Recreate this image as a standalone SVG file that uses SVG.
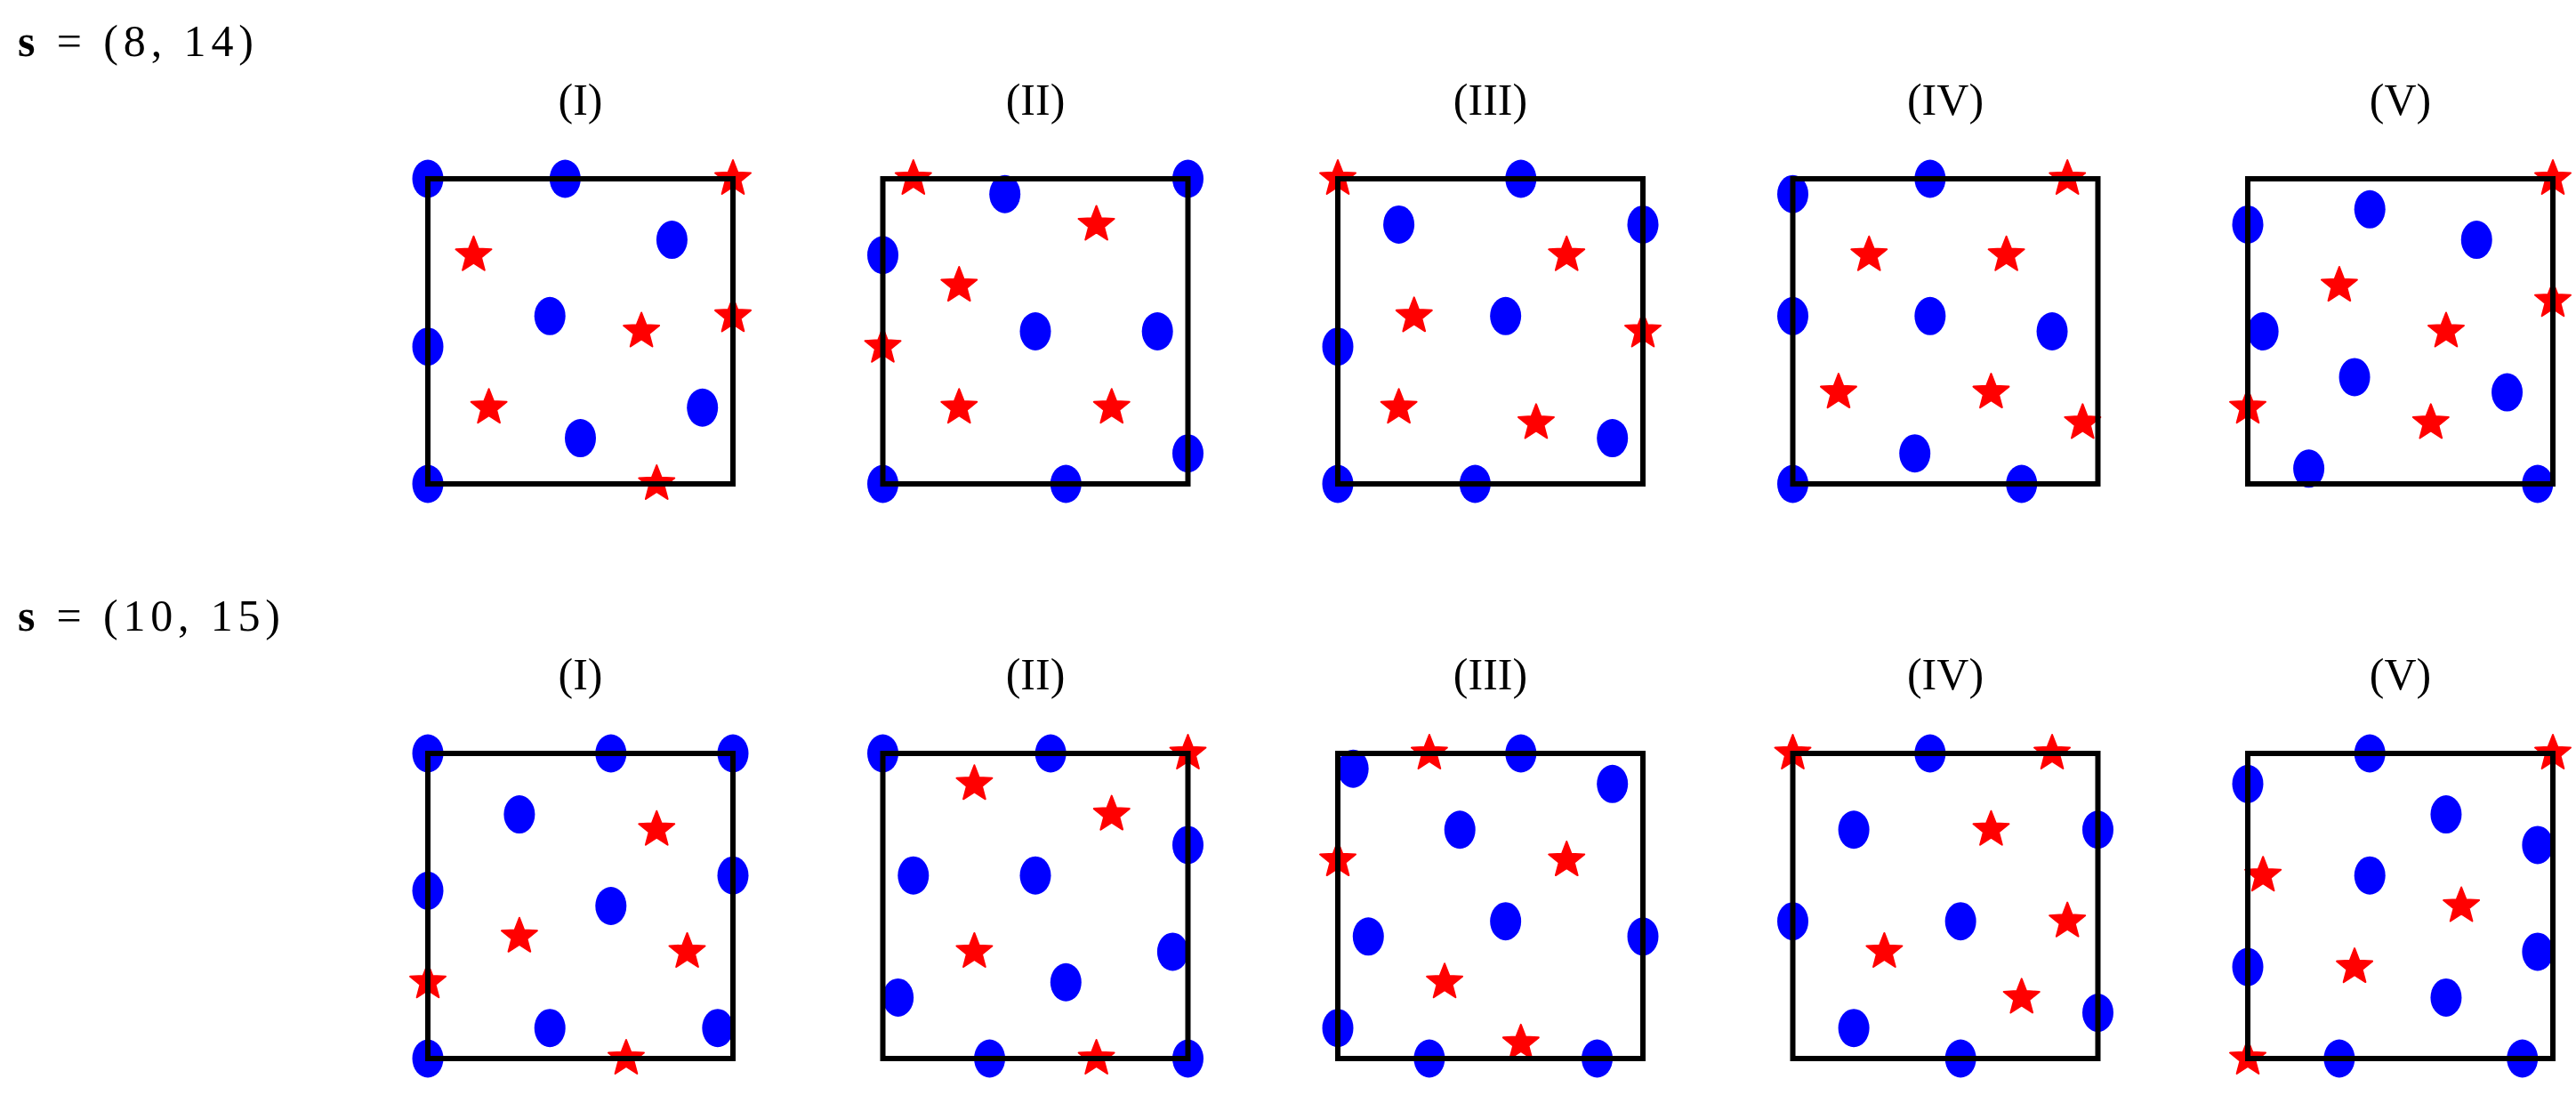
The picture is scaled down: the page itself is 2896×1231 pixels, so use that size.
<svg xmlns="http://www.w3.org/2000/svg" xmlns:xlink="http://www.w3.org/1999/xlink" width="2896" height="1231" viewBox="0 0 2896 1231">
<style>
.lbl{font-family:"Liberation Serif","Times New Roman",serif;font-size:50px;fill:#000}
.box{fill:none;stroke:#000;stroke-width:6}
.c{fill:#0000ff}
.s{fill:#ff0000;stroke:#ff0000;stroke-width:2;stroke-linejoin:round}
</style>
<defs>
<ellipse id="d" cx="0" cy="0" rx="17.5" ry="21.5"/>
<path id="st" d="M0,-21 L5.29,-7.28 L19.97,-6.49 L8.56,2.78 L12.34,16.99 L0,9 L-12.34,16.99 L-8.56,2.78 L-19.97,-6.49 L-5.29,-7.28Z"/>
</defs>
<rect width="2896" height="1231" fill="#fff"/>
<text class="lbl" x="20" y="63" textLength="265" lengthAdjust="spacing"><tspan font-weight="bold">s</tspan> = (8, 14)</text>
<text class="lbl" x="20" y="709" textLength="295" lengthAdjust="spacing"><tspan font-weight="bold">s</tspan> = (10, 15)</text>

<!-- Row 1 -->
<g id="r1p1" transform="translate(481,201)">
<text class="lbl" x="171.5" y="-72" text-anchor="middle">(I)</text>
<g class="c"><use href="#d" x="0" y="0"/><use href="#d" x="154.35" y="0"/><use href="#d" x="274.4" y="68.6"/><use href="#d" x="137.2" y="154.35"/><use href="#d" x="0" y="188.65"/><use href="#d" x="308.7" y="257.25"/><use href="#d" x="171.5" y="291.55"/><use href="#d" x="0" y="343"/></g>
<g class="s"><use href="#st" x="343" y="0"/><use href="#st" x="51.45" y="85.75"/><use href="#st" x="343" y="154.35"/><use href="#st" x="240.1" y="171.5"/><use href="#st" x="68.6" y="257.25"/><use href="#st" x="257.25" y="343"/></g>
<rect class="box" x="0" y="0" width="343" height="343"/>
</g>
<g id="r1p2" transform="translate(992.5,201)">
<text class="lbl" x="171.5" y="-72" text-anchor="middle">(II)</text>
<g class="c"><use href="#d" x="137.2" y="17.15"/><use href="#d" x="343" y="0"/><use href="#d" x="0" y="85.75"/><use href="#d" x="171.5" y="171.5"/><use href="#d" x="308.7" y="171.5"/><use href="#d" x="343" y="308.7"/><use href="#d" x="0" y="343"/><use href="#d" x="205.8" y="343"/></g>
<g class="s"><use href="#st" x="34.3" y="0"/><use href="#st" x="240.1" y="51.45"/><use href="#st" x="85.75" y="120.05"/><use href="#st" x="0" y="188.65"/><use href="#st" x="85.75" y="257.25"/><use href="#st" x="257.25" y="257.25"/></g>
<rect class="box" x="0" y="0" width="343" height="343"/>
</g>
<g id="r1p3" transform="translate(1504,201)">
<text class="lbl" x="171.5" y="-72" text-anchor="middle">(III)</text>
<g class="c"><use href="#d" x="205.8" y="0"/><use href="#d" x="68.6" y="51.45"/><use href="#d" x="343" y="51.45"/><use href="#d" x="188.65" y="154.35"/><use href="#d" x="0" y="188.65"/><use href="#d" x="308.7" y="291.55"/><use href="#d" x="0" y="343"/><use href="#d" x="154.35" y="343"/></g>
<g class="s"><use href="#st" x="0" y="0"/><use href="#st" x="257.25" y="85.75"/><use href="#st" x="85.75" y="154.35"/><use href="#st" x="343" y="171.5"/><use href="#st" x="68.6" y="257.25"/><use href="#st" x="222.95" y="274.4"/></g>
<rect class="box" x="0" y="0" width="343" height="343"/>
</g>
<g id="r1p4" transform="translate(2015.5,201)">
<text class="lbl" x="171.5" y="-72" text-anchor="middle">(IV)</text>
<g class="c"><use href="#d" x="0" y="17.15"/><use href="#d" x="154.35" y="0"/><use href="#d" x="0" y="154.35"/><use href="#d" x="154.35" y="154.35"/><use href="#d" x="291.55" y="171.5"/><use href="#d" x="137.2" y="308.7"/><use href="#d" x="0" y="343"/><use href="#d" x="257.25" y="343"/></g>
<g class="s"><use href="#st" x="308.7" y="0"/><use href="#st" x="85.75" y="85.75"/><use href="#st" x="240.1" y="85.75"/><use href="#st" x="51.45" y="240.1"/><use href="#st" x="222.95" y="240.1"/><use href="#st" x="325.85" y="274.4"/></g>
<rect class="box" x="0" y="0" width="343" height="343"/>
</g>
<g id="r1p5" transform="translate(2527,201)">
<text class="lbl" x="171.5" y="-72" text-anchor="middle">(V)</text>
<g class="c"><use href="#d" x="137.2" y="34.3"/><use href="#d" x="0" y="51.45"/><use href="#d" x="257.25" y="68.6"/><use href="#d" x="17.15" y="171.5"/><use href="#d" x="120.05" y="222.95"/><use href="#d" x="291.55" y="240.1"/><use href="#d" x="68.6" y="325.85"/><use href="#d" x="325.85" y="343"/></g>
<g class="s"><use href="#st" x="343" y="0"/><use href="#st" x="102.9" y="120.05"/><use href="#st" x="343" y="137.2"/><use href="#st" x="222.95" y="171.5"/><use href="#st" x="0" y="257.25"/><use href="#st" x="205.8" y="274.4"/></g>
<rect class="box" x="0" y="0" width="343" height="343"/>
</g>

<!-- Row 2 -->
<g id="r2p1" transform="translate(481,847)">
<text class="lbl" x="171.5" y="-72" text-anchor="middle">(I)</text>
<g class="c"><use href="#d" x="0" y="0"/><use href="#d" x="205.8" y="0"/><use href="#d" x="343" y="0"/><use href="#d" x="102.9" y="68.6"/><use href="#d" x="343" y="137.2"/><use href="#d" x="0" y="154.35"/><use href="#d" x="205.8" y="171.5"/><use href="#d" x="137.2" y="308.7"/><use href="#d" x="325.85" y="308.7"/><use href="#d" x="0" y="343"/></g>
<g class="s"><use href="#st" x="257.25" y="85.75"/><use href="#st" x="102.9" y="205.8"/><use href="#st" x="291.55" y="222.95"/><use href="#st" x="0" y="257.25"/><use href="#st" x="222.95" y="343"/></g>
<rect class="box" x="0" y="0" width="343" height="343"/>
</g>
<g id="r2p2" transform="translate(992.5,847)">
<text class="lbl" x="171.5" y="-72" text-anchor="middle">(II)</text>
<g class="c"><use href="#d" x="0" y="0"/><use href="#d" x="188.65" y="0"/><use href="#d" x="343" y="102.9"/><use href="#d" x="34.3" y="137.2"/><use href="#d" x="171.5" y="137.2"/><use href="#d" x="325.85" y="222.95"/><use href="#d" x="205.8" y="257.25"/><use href="#d" x="17.15" y="274.4"/><use href="#d" x="120.05" y="343"/><use href="#d" x="343" y="343"/></g>
<g class="s"><use href="#st" x="343" y="0"/><use href="#st" x="102.9" y="34.3"/><use href="#st" x="257.25" y="68.6"/><use href="#st" x="102.9" y="222.95"/><use href="#st" x="240.1" y="343"/></g>
<rect class="box" x="0" y="0" width="343" height="343"/>
</g>
<g id="r2p3" transform="translate(1504,847)">
<text class="lbl" x="171.5" y="-72" text-anchor="middle">(III)</text>
<g class="c"><use href="#d" x="17.15" y="17.15"/><use href="#d" x="205.8" y="0"/><use href="#d" x="308.7" y="34.3"/><use href="#d" x="137.2" y="85.75"/><use href="#d" x="188.65" y="188.65"/><use href="#d" x="34.3" y="205.8"/><use href="#d" x="343" y="205.8"/><use href="#d" x="0" y="308.7"/><use href="#d" x="102.9" y="343"/><use href="#d" x="291.55" y="343"/></g>
<g class="s"><use href="#st" x="102.9" y="0"/><use href="#st" x="0" y="120.05"/><use href="#st" x="257.25" y="120.05"/><use href="#st" x="120.05" y="257.25"/><use href="#st" x="205.8" y="325.85"/></g>
<rect class="box" x="0" y="0" width="343" height="343"/>
</g>
<g id="r2p4" transform="translate(2015.5,847)">
<text class="lbl" x="171.5" y="-72" text-anchor="middle">(IV)</text>
<g class="c"><use href="#d" x="154.35" y="0"/><use href="#d" x="68.6" y="85.75"/><use href="#d" x="343" y="85.75"/><use href="#d" x="0" y="188.65"/><use href="#d" x="188.65" y="188.65"/><use href="#d" x="343" y="291.55"/><use href="#d" x="68.6" y="308.7"/><use href="#d" x="188.65" y="343"/></g>
<g class="s"><use href="#st" x="0" y="0"/><use href="#st" x="291.55" y="0"/><use href="#st" x="222.95" y="85.75"/><use href="#st" x="308.7" y="188.65"/><use href="#st" x="102.9" y="222.95"/><use href="#st" x="257.25" y="274.4"/></g>
<rect class="box" x="0" y="0" width="343" height="343"/>
</g>
<g id="r2p5" transform="translate(2527,847)">
<text class="lbl" x="171.5" y="-72" text-anchor="middle">(V)</text>
<g class="c"><use href="#d" x="137.2" y="0"/><use href="#d" x="0" y="34.3"/><use href="#d" x="222.95" y="68.6"/><use href="#d" x="325.85" y="102.9"/><use href="#d" x="137.2" y="137.2"/><use href="#d" x="325.85" y="222.95"/><use href="#d" x="0" y="240.1"/><use href="#d" x="222.95" y="274.4"/><use href="#d" x="102.9" y="343"/><use href="#d" x="308.7" y="343"/></g>
<g class="s"><use href="#st" x="343" y="0"/><use href="#st" x="17.15" y="137.2"/><use href="#st" x="240.1" y="171.5"/><use href="#st" x="120.05" y="240.1"/><use href="#st" x="0" y="343"/></g>
<rect class="box" x="0" y="0" width="343" height="343"/>
</g>
</svg>
